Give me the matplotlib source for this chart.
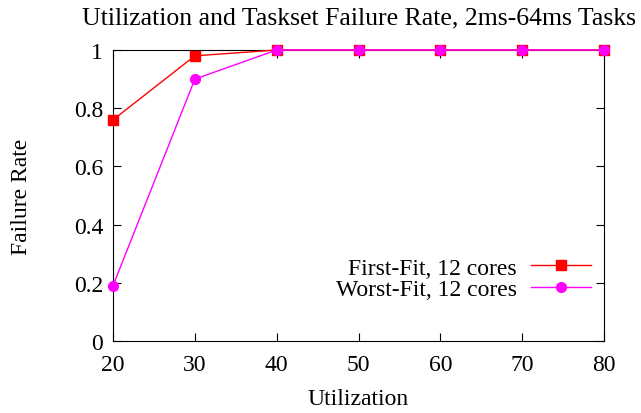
import matplotlib
matplotlib.use('Agg')
import matplotlib.pyplot as plt

utilization = [20, 30, 40, 50, 60, 70, 80]
first_fit = [0.76, 0.98, 1.0, 1.0, 1.0, 1.0, 1.0]
worst_fit = [0.19, 0.90, 1.0, 1.0, 1.0, 1.0, 1.0]
yticks = [0, 0.2, 0.4, 0.6, 0.8, 1]
ytick_labels = ['0', '0.2', '0.4', '0.6', '0.8', '1']

plt.rcParams['font.family'] = ['Liberation Serif', 'DejaVu Serif']
plt.rcParams['font.size'] = 17

fig = plt.figure(figsize=(6.41, 4.14), dpi=100)
ax = fig.add_axes([0.1763, 0.1739, 0.766, 0.7029])

ax.plot(utilization, first_fit, color='#ff0000', marker='s', markersize=7,
        linewidth=1, label='First-Fit, 12 cores', clip_on=False, zorder=3)
ax.plot(utilization, worst_fit, color='#ff00ff', marker='o', markersize=7,
        linewidth=1, label='Worst-Fit, 12 cores', clip_on=False, zorder=4)

ax.set_xlim(20, 80)
ax.set_ylim(0, 1)
ax.set_xticks(utilization)
ax.set_yticks(yticks)
ax.set_yticklabels(ytick_labels)
ax.tick_params(direction='in', top=True, right=True, length=6, width=0.8)
ax.tick_params(axis='x', pad=9)
ax.tick_params(axis='y', pad=7)

ax.set_xlabel('Utilization', labelpad=10)
ax.set_ylabel('Failure Rate', labelpad=30)
ax.set_title('Utilization and Taskset Failure Rate, 2ms-64ms Tasks', fontsize=18.5, pad=19)

ax.legend(loc='lower right', bbox_to_anchor=(0.998, 0.10), frameon=False,
          markerfirst=False, handlelength=2.55, handletextpad=0.6,
          labelspacing=0.0, borderpad=0)

fig.savefig('out.png', dpi=100)
